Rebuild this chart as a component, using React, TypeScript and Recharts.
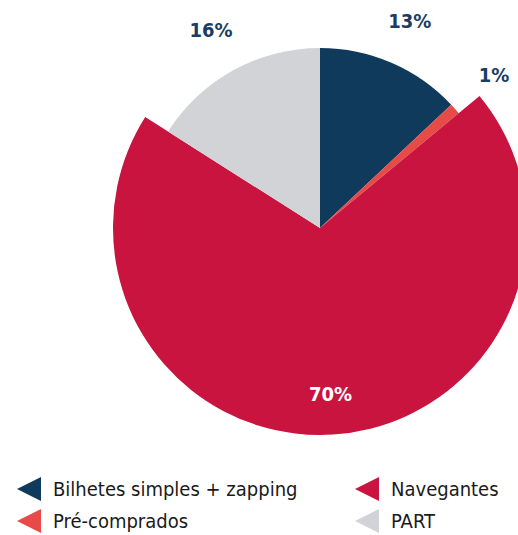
import { PieChart, Pie, Cell, Sector, Legend } from "recharts";

const categories = ["Bilhetes simples + zapping", "Pré-comprados", "Navegantes", "PART"];
const shares = [13, 1, 70, 16];
const colors = ["#0f3a5c", "#e84a47", "#c8143f", "#d1d3d6"];
// legend order in the reference (two columns)
const legendOrder = [0, 2, 1, 3];

const data = categories.map((name, i) => ({ name, value: shares[i] }));

const RADIAN = Math.PI / 180;
const FONT = "'Liberation Sans Narrow', 'DejaVu Sans Condensed', 'Open Sans', sans-serif";

// the Navegantes slice sticks out past the others
const bigSlice = "Navegantes";

const renderShape = (props: any) => {
  const big = props.name === bigSlice || props.payload?.name === bigSlice;
  return <Sector {...props} outerRadius={big ? 207 : 180} />;
};

const renderLabel = ({ cx, cy, midAngle, value, name }: any) => {
  const inside = name === bigSlice;
  const r = inside ? 166 : value < 5 ? 232 : 226;
  const x = cx + r * Math.cos(-midAngle * RADIAN);
  const y = cy + r * Math.sin(-midAngle * RADIAN);
  return (
    <text
      x={x}
      y={y}
      fill={inside ? "#ffffff" : "#1b3d62"}
      textAnchor="middle"
      dominantBaseline="central"
      fontFamily={FONT}
      fontWeight="bold"
      fontSize={20}
      style={{ fontStretch: "condensed" }}
    >
      {`${value}%`}
    </text>
  );
};

const customLegend = () => (
  <div
    style={{
      display: "grid",
      gridTemplateColumns: "338px 160px",
      rowGap: 8,
      fontFamily: FONT,
      fontStretch: "condensed",
      fontSize: 20,
      color: "#1a1a1a",
    }}
  >
    {legendOrder.map((i) => (
      <div key={categories[i]} style={{ display: "flex", alignItems: "center", height: 24 }}>
        <svg width={24} height={24} style={{ marginRight: 12 }}>
          <polygon points="0,12 24,0 24,24" fill={colors[i]} />
        </svg>
        <span>{categories[i]}</span>
      </div>
    ))}
  </div>
);

export default function App() {
  return (
    <div style={{ position: "absolute", left: 0, top: 0 }}>
      <PieChart width={518} height={535} margin={{ top: 0, right: 0, bottom: 0, left: 0 }}>
        <Pie
          data={data}
          dataKey="value"
          nameKey="name"
          cx={320}
          cy={228}
          outerRadius={180}
          startAngle={90}
          endAngle={-270}
          stroke="none"
          labelLine={false}
          label={renderLabel}
          shape={renderShape}
          isAnimationActive={false}
        >
          {data.map((d, i) => (
            <Cell key={d.name} fill={colors[i]} />
          ))}
        </Pie>
        <Legend
          content={customLegend}
          wrapperStyle={{ position: "absolute", left: 17, top: 477, width: 500 }}
        />
      </PieChart>
    </div>
  );
}
